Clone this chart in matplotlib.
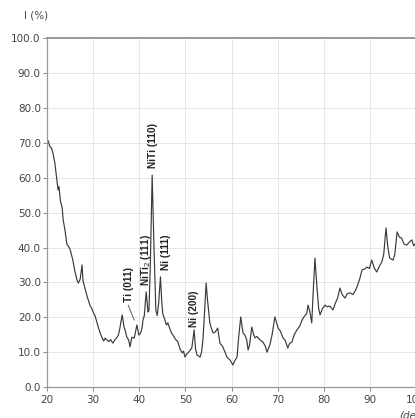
import matplotlib
matplotlib.use("Agg")
import matplotlib.pyplot as plt
import numpy as np

two_theta = [20.0, 20.3, 20.6, 21.0, 21.3, 21.7, 22.0, 22.4, 22.6, 22.9, 23.3, 23.5, 23.9, 24.3, 24.6,
             25.0, 25.3, 25.6, 26.0, 26.5, 26.8, 27.2, 27.6, 27.8, 28.2, 28.7, 29.0, 29.3, 29.7, 30.0,
             30.4, 30.8, 31.2, 31.6, 31.9, 32.3, 32.6, 33.0, 33.4, 33.8, 34.1, 34.3, 34.7, 35.2, 35.5,
             35.8, 36.3, 36.7, 37.0, 37.3, 37.7, 38.0, 38.4, 38.9, 39.5, 39.9, 40.3, 40.6, 40.8, 41.1,
             41.5, 41.9, 42.1, 42.4, 42.8, 43.2, 43.6, 43.9, 44.2, 44.6, 44.9, 45.1, 45.5, 45.9, 46.2,
             46.6, 47.0, 47.3, 47.8, 48.4, 48.8, 49.3, 49.6, 49.9, 50.3, 50.6, 51.0, 51.4, 51.9, 52.2,
             52.5, 53.2, 53.5, 53.8, 54.1, 54.5, 54.8, 55.3, 55.6, 56.0, 56.5, 57.0, 57.5, 58.0, 58.6,
             59.0, 59.7, 60.0, 60.3, 60.7, 61.2, 61.5, 62.0, 62.5, 62.9, 63.3, 63.6, 63.9, 64.4, 64.8,
             65.1, 65.5, 66.2, 66.8, 67.3, 67.7, 68.3, 68.8, 69.4, 70.1, 70.6, 71.2, 71.6, 72.2, 72.6,
             73.1, 73.6, 74.2, 74.8, 75.3, 75.9, 76.3, 76.6, 77.0, 77.4, 77.7, 78.1, 78.5, 78.9, 79.2,
             79.7, 80.3, 80.7, 81.3, 82.0, 82.5, 83.0, 83.5, 84.0, 84.6, 85.1, 85.7, 86.3, 86.8, 87.2,
             87.8, 88.3, 88.8, 89.4, 89.9, 90.4, 91.0, 91.5, 92.0, 92.6, 93.0, 93.5, 93.9, 94.3, 95.0,
             95.4, 95.9, 96.4, 96.9, 97.4, 98.0, 98.5, 99.1, 99.5, 100.0]
intensity = [71.0, 70.5, 69.0, 68.5, 67.0, 64.3, 61.0, 56.5, 57.5, 53.5, 51.3, 48.0, 45.0, 41.0, 40.5,
             39.5, 38.0, 36.4, 33.5, 30.7, 29.8, 31.0, 35.0, 30.5, 28.5, 26.0, 24.8, 23.5, 22.5, 21.5,
             20.5, 18.6, 16.8, 15.2, 14.3, 13.2, 14.0, 13.5, 13.0, 13.6, 12.9, 12.6, 13.5, 14.3, 15.0,
             16.9, 20.7, 17.2, 16.0, 14.3, 13.5, 11.5, 14.3, 14.0, 17.8, 14.9, 15.5, 16.9, 19.2, 20.5,
             27.3, 21.5, 22.0, 35.0, 60.8, 40.0, 22.0, 20.5, 24.0, 31.6, 24.0, 21.0, 19.5, 17.8, 18.4,
             16.8, 15.5, 14.9, 13.8, 12.9, 11.0, 9.8, 10.3, 8.6, 9.5, 9.8, 10.5, 11.2, 16.4, 11.0,
             9.2, 8.6, 10.0, 13.5, 20.0, 29.8, 25.0, 18.4, 17.0, 15.5, 15.8, 16.9, 12.5, 11.8, 10.0,
             8.6, 7.7, 7.0, 6.3, 7.5, 8.6, 13.5, 20.1, 15.5, 14.9, 13.5, 10.6, 12.0, 17.2, 15.0,
             14.1, 14.5, 13.5, 12.9, 11.8, 10.0, 12.0, 15.0, 20.1, 16.9, 16.0, 14.0, 13.5, 11.2, 12.5,
             12.9, 15.0, 16.4, 17.5, 19.2, 20.5, 21.0, 23.5, 21.5, 18.4, 27.0, 37.0, 29.0, 22.5, 20.7,
             22.5, 23.5, 23.0, 23.2, 22.1, 24.0, 25.5, 28.4, 26.5, 25.5, 26.8, 27.0, 26.5, 27.5, 28.7,
             31.0, 33.6, 33.8, 34.4, 34.0, 36.4, 34.0, 33.0, 34.5, 35.9, 38.0, 45.6, 40.0, 37.0, 36.4,
             38.0, 44.5, 43.0, 42.7, 41.0, 40.7, 41.5, 42.2, 40.5, 41.3]

peak_labels = ["Ti (011)", "NiTi$_2$ (111)", "NiTi (110)", "Ni (111)", "Ni (200)"]
label_x = [37.7, 41.5, 43.0, 45.8, 51.9]
label_top = [34.3, 43.8, 75.8, 43.8, 27.8]

y_ticks = [0, 10, 20, 30, 40, 50, 60, 70, 80, 90, 100]
x_ticks = [20, 30, 40, 50, 60, 70, 80, 90, 100]

fig = plt.figure(figsize=(4.15, 4.18), dpi=100)
ax = fig.add_axes([47 / 415, 31 / 418, 369 / 415, 348.6 / 418])

ax.plot(two_theta, intensity, color="#3a3a3a", lw=0.85)

ax.set_xlim(20, 100)
ax.set_ylim(0, 100)
ax.set_xticks(x_ticks)
ax.set_yticks(y_ticks)
ax.set_yticklabels([f"{v:.1f}" for v in y_ticks])
ax.grid(True, color="#e6e6e6", lw=0.7)
ax.set_axisbelow(True)
ax.tick_params(axis="both", labelsize=7.5, colors="#888888", labelcolor="#444444",
               length=3, width=0.7, pad=1.5)
ax.tick_params(axis="x", pad=3)
for s in ["left", "bottom"]:
    ax.spines[s].set_color("#999999")
    ax.spines[s].set_linewidth(0.9)
ax.spines["right"].set_visible(False)
ax.spines["top"].set_color("#999999")
ax.spines["top"].set_linewidth(1.4)

fam = ["Liberation Sans", "DejaVu Sans"]
for lab, x, t in zip(peak_labels, label_x, label_top):
    ax.text(x, t, lab, rotation=90, ha="center", va="top", fontsize=7.3,
            fontweight="bold", family=fam, color="#222222")
ax.plot([37.6, 38.9], [23.5, 19.2], color="#444444", lw=0.6)

fig.text(36 / 415, 1 - 16 / 418, "I (%)", ha="center", va="center", fontsize=7.5, color="#444444")
fig.text(399 / 415, 1 - 416 / 418, "(deg)", ha="left", va="center", fontsize=7.5,
         style="italic", color="#444444")

fig.savefig("out.png", dpi=100)
